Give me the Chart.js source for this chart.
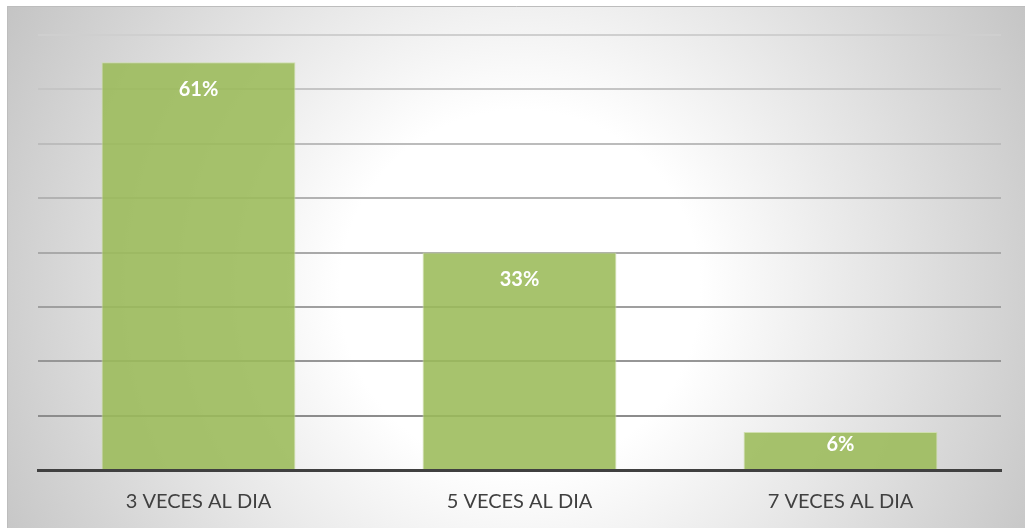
<!DOCTYPE html>
<html>
<head>
<meta charset="utf-8">
<script src="https://cdn.jsdelivr.net/npm/chart.js@4/dist/chart.umd.min.js"></script>
<style>
  html, body { margin: 0; padding: 0; background: #ffffff; }
  #wrap { width: 1025px; height: 528px; position: relative; }
</style>
</head>
<body>
<div id="wrap"><canvas id="chart" width="1025" height="528"></canvas></div>
<script>
const categories = ["3 VECES AL DIA", "5 VECES AL DIA", "7 VECES AL DIA"];
const counts = [75, 40, 7];
const percentLabels = ["61%", "33%", "6%"];
const yTicks = [0, 10, 20, 30, 40, 50, 60, 70, 80];

// grid colour gets darker towards the bottom, like the original
function gridColor(ctx) {
  const v = ctx.tick ? ctx.tick.value : 0;
  if (v === 0) return "rgba(0,0,0,0)";
  const shade = Math.round(0x8c + (v - 10) * 0.95);
  return `rgb(${shade},${shade},${shade})`;
}

const backgroundPlugin = {
  id: "bg",
  beforeDraw(chart) {
    const c = chart.ctx;
    c.save();
    const g = c.createRadialGradient(520, 290, 0, 520, 290, 600);
    g.addColorStop(0, "#ffffff");
    g.addColorStop(0.3, "#ffffff");
    g.addColorStop(1, "#c2c2c2");
    c.fillStyle = g;
    c.fillRect(7, 6, 1018, 522);
    c.strokeStyle = "#bdbdbd";
    c.lineWidth = 1;
    c.beginPath();
    c.moveTo(7.5, 528);
    c.lineTo(7.5, 6.5);
    c.lineTo(1025, 6.5);
    c.stroke();
    c.restore();
  }
};

const labelPlugin = {
  id: "barLabels",
  afterDatasetsDraw(chart) {
    const c = chart.ctx;
    const meta = chart.getDatasetMeta(0);
    c.save();
    c.fillStyle = "#ffffff";
    c.font = "bold 20px Lato";
    c.textAlign = "center";
    c.textBaseline = "middle";
    meta.data.forEach((bar, i) => {
      const h = bar.base - bar.y;
      const off = Math.min(27, h / 2 - 6);
      c.fillText(percentLabels[i], bar.x, bar.y + off);
    });
    c.restore();
  }
};

new Chart(document.getElementById("chart"), {
  type: "bar",
  data: {
    labels: categories,
    datasets: [
      {
        data: counts,
        backgroundColor: "rgba(155,187,89,0.88)",
        borderColor: "rgba(205,222,170,0.9)",
        borderWidth: 1,
        categoryPercentage: 0.604,
        barPercentage: 1.0,
      },
    ],
  },
  options: {
    responsive: false,
    animation: false,
    layout: { padding: { left: 38, right: 24, top: 35, bottom: 16 } },
    plugins: { legend: { display: false }, tooltip: { enabled: false } },
    scales: {
      x: {
        afterFit(scale) {
          scale.height = 42;
        },
        grid: { display: false, drawTicks: false },
        border: { display: true, color: "#404040", width: 3 },
        ticks: {
          color: "#404040",
          font: { family: "Lato", size: 20 },
          padding: 20,
        },
      },
      y: {
        min: 0,
        max: 80,
        afterBuildTicks(scale) {
          scale.ticks = yTicks.map((v) => ({ value: v }));
        },
        afterFit(scale) {
          scale.width = 0;
        },
        ticks: { display: false },
        border: { display: false },
        grid: { color: gridColor, lineWidth: 2, drawTicks: false },
      },
    },
  },
  plugins: [backgroundPlugin, labelPlugin],
});
</script>
</body>
</html>
